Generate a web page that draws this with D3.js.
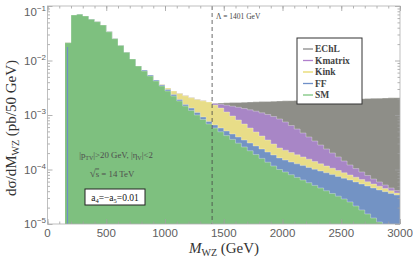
<!DOCTYPE html>
<html>
<head>
<meta charset="utf-8">
<script src="https://cdn.jsdelivr.net/npm/d3@7/dist/d3.min.js"></script>
<style>
  body { margin: 0; background: #fff; }
  svg { display: block; }
</style>
</head>
<body>
<svg id="chart" width="413" height="260"></svg>
<script>
// bins of 50 GeV, 150 -> 3000
var binEdges = d3.range(150, 3001, 50);
var ffStart = 170;
var lambdaMass = 1401;

var smVals = [0.0212, 0.0684, 0.0705, 0.0656, 0.0570, 0.0515, 0.0448, 0.0336, 0.0251, 0.0188,
  0.0141, 0.01066, 0.00792, 0.00641, 0.00520, 0.00421, 0.00341, 0.00276, 0.00223, 0.00181,
  0.00146, 0.00121, 0.00100, 8.27e-4, 6.84e-4, 5.77e-4, 4.92e-4, 4.19e-4, 3.57e-4, 3.04e-4,
  2.59e-4, 2.21e-4, 1.88e-4, 1.60e-4, 1.36e-4, 1.16e-4, 1.00e-4, 9.0e-5, 8.03e-5, 7.16e-5,
  6.42e-5, 5.73e-5, 5.11e-5, 4.58e-5, 4.07e-5, 3.63e-5, 3.24e-5, 2.88e-5, 2.54e-5, 2.14e-5,
  1.81e-5, 1.53e-5, 1.29e-5, 1.09e-5, 9.2e-6, 7.8e-6, 6.6e-6];

var ffVals = [0.0177, 0.0684, 0.0705, 0.0656, 0.0570, 0.0515, 0.0448, 0.0336, 0.0251, 0.0188,
  0.0141, 0.01066, 0.00792, 0.00668, 0.00542, 0.00439, 0.00356, 0.00294, 0.00238, 0.00193,
  0.00156, 0.00134, 0.00111, 9.2e-4, 7.6e-4, 6.56e-4, 5.77e-4, 5.08e-4, 4.48e-4, 3.94e-4,
  3.47e-4, 3.06e-4, 2.70e-4, 2.38e-4, 2.09e-4, 1.85e-4, 1.63e-4, 1.49e-4, 1.37e-4, 1.27e-4,
  1.18e-4, 1.09e-4, 1.01e-4, 9.38e-5, 8.7e-5, 8.06e-5, 7.47e-5, 6.92e-5, 6.42e-5, 5.90e-5,
  5.42e-5, 4.98e-5, 4.58e-5, 4.21e-5, 3.92e-5, 3.64e-5, 3.40e-5];

var kinkVals = [0.0212, 0.0684, 0.0705, 0.0656, 0.0570, 0.0515, 0.0448, 0.0336, 0.0251, 0.0188,
  0.0141, 0.01066, 0.00792, 0.00645, 0.00531, 0.00435, 0.00363, 0.00313, 0.00276, 0.00248,
  0.00225, 0.00207, 0.00193, 0.00182, 0.00173, 0.00153, 0.00134, 0.001135, 9.59e-4, 8.10e-4,
  6.84e-4, 5.77e-4, 4.88e-4, 4.12e-4, 3.48e-4, 2.94e-4, 2.48e-4, 2.26e-4, 2.05e-4, 1.86e-4,
  1.70e-4, 1.545e-4, 1.40e-4, 1.27e-4, 1.16e-4, 1.056e-4, 9.59e-5, 8.70e-5, 7.93e-5, 7.22e-5,
  6.55e-5, 5.95e-5, 5.42e-5, 4.94e-5, 4.48e-5, 4.07e-5, 3.71e-5];

var kmatrixVals = [0.0212, 0.0684, 0.0705, 0.0656, 0.0570, 0.0515, 0.0448, 0.0336, 0.0251, 0.0188,
  0.0141, 0.01066, 0.00792, 0.00645, 0.00531, 0.00435, 0.00363, 0.00313, 0.00276, 0.00248,
  0.00225, 0.00207, 0.00193, 0.00182, 0.00173, 1.626e-3, 1.572e-3, 1.513e-3, 1.451e-3, 1.385e-3,
  1.316e-3, 1.245e-3, 1.174e-3, 1.097e-3, 1.021e-3, 9.39e-4, 8.45e-4, 7.44e-4, 6.42e-4, 5.53e-4,
  4.67e-4, 3.95e-4, 3.33e-4, 2.81e-4, 2.38e-4, 2.01e-4, 1.70e-4, 1.43e-4, 1.21e-4, 1.04e-4,
  9.0e-5, 7.76e-5, 6.69e-5, 5.90e-5, 5.20e-5, 4.58e-5, 4.12e-5];

var echlVals = [0.0212, 0.0684, 0.0705, 0.0656, 0.0570, 0.0515, 0.0448, 0.0336, 0.0251, 0.0188,
  0.0141, 0.01066, 0.00792, 0.00645, 0.00531, 0.00435, 0.00363, 0.00313, 0.00276, 0.00248,
  0.00225, 0.00207, 0.00193, 0.00182, 0.00173, 1.646e-3, 1.660e-3, 1.674e-3, 1.688e-3, 1.702e-3,
  1.717e-3, 1.731e-3, 1.746e-3, 1.761e-3, 1.776e-3, 1.791e-3, 1.807e-3, 1.819e-3, 1.832e-3, 1.845e-3,
  1.858e-3, 1.871e-3, 1.884e-3, 1.897e-3, 1.910e-3, 1.924e-3, 1.937e-3, 1.951e-3, 1.964e-3, 1.978e-3,
  1.992e-3, 2.006e-3, 2.020e-3, 2.034e-3, 2.048e-3, 2.063e-3, 2.077e-3];

var seriesNames = ['EChL', 'Kmatrix', 'Kink', 'FF', 'SM'];
var seriesVals = [echlVals, kmatrixVals, kinkVals, ffVals, smVals];
var fillColors = ['#8e8e88', '#a886c6', '#e8dd88', '#7393c4', '#7ec07f'];
var lineColors = ['#8a8a8a', '#b07fcc', '#e6d86a', '#6f90c8', '#7cc47e'];

var xTicks = [0, 500, 1000, 1500, 2000, 2500, 3000];
var yTicks = [1e-5, 1e-4, 1e-3, 1e-2, 1e-1];

var x = d3.scaleLinear().domain([0, 3000]).range([47.5, 400]);
var y = d3.scaleLog().domain([1e-5, 1e-1]).range([224, 6]);

var svg = d3.select('#chart');

svg.append('clipPath').attr('id', 'clip')
  .append('rect').attr('x', x(0)).attr('y', y(1e-1))
  .attr('width', x(3000) - x(0)).attr('height', y(1e-5) - y(1e-1));

var plot = svg.append('g').attr('clip-path', 'url(#clip)');

function stepPoints(vals, first) {
  var pts = vals.map(function(v, i) { return [i == 0 && first != null ? first : binEdges[i], v]; });
  pts.push([binEdges[vals.length], vals[vals.length - 1]]);
  return pts;
}

var area = d3.area().curve(d3.curveStepAfter)
  .x(function(d) { return x(d[0]); })
  .y0(y(1e-5) + 5)
  .y1(function(d) { return y(d[1]); });
var line = d3.line().curve(d3.curveStepAfter)
  .x(function(d) { return x(d[0]); })
  .y(function(d) { return y(d[1]); });

seriesVals.forEach(function(vals, i) {
  var pts = stepPoints(vals, seriesNames[i] == 'FF' ? ffStart : null);
  plot.append('path').attr('d', area(pts)).attr('fill', fillColors[i]);
  plot.append('path').attr('d', line(pts)).attr('fill', 'none')
    .attr('stroke', '#fff').attr('stroke-opacity', 0.3).attr('stroke-width', 1);
});

// left edge of the FF histogram shows through
plot.append('line')
  .attr('x1', x(ffStart)).attr('x2', x(ffStart))
  .attr('y1', y(ffVals[0])).attr('y2', y(1e-5))
  .attr('stroke', '#6f8fc4').attr('stroke-width', 1.2);

// unitarity scale
svg.append('line')
  .attr('x1', x(lambdaMass)).attr('x2', x(lambdaMass))
  .attr('y1', y(1e-1)).attr('y2', y(1e-5))
  .attr('stroke', '#444').attr('stroke-width', 0.8).attr('stroke-dasharray', '4,3');
svg.append('text').attr('x', x(lambdaMass) + 4).attr('y', 19)
  .attr('font-family', 'Liberation Serif, serif').attr('font-size', 7.5).attr('fill', '#444')
  .text('\u039B = 1401 GeV');

// frame and ticks
var tickColor = '#a0a0a0';
var minorX = d3.range(0, 3001, 100);
var minorY = [];
[-5, -4, -3, -2].forEach(function(e) {
  for (var k = 2; k <= 9; k++) minorY.push(k * Math.pow(10, e));
});

function tickAxis(axis, g, size) {
  g.call(axis.tickSize(size).tickFormat(''));
  g.select('.domain').remove();
  g.selectAll('line').attr('stroke', tickColor).attr('stroke-width', 0.8);
}
var b = y(1e-5), t = y(1e-1), l = x(0), r = x(3000);
tickAxis(d3.axisBottom(x).tickValues(minorX), svg.append('g').attr('transform', 'translate(0,' + b + ')'), -2.5);
tickAxis(d3.axisBottom(x).tickValues(xTicks), svg.append('g').attr('transform', 'translate(0,' + b + ')'), -5);
tickAxis(d3.axisTop(x).tickValues(minorX), svg.append('g').attr('transform', 'translate(0,' + t + ')'), -2.5);
tickAxis(d3.axisTop(x).tickValues(xTicks), svg.append('g').attr('transform', 'translate(0,' + t + ')'), -5);
tickAxis(d3.axisLeft(y).tickValues(minorY), svg.append('g').attr('transform', 'translate(' + l + ',0)'), -2.5);
tickAxis(d3.axisLeft(y).tickValues(yTicks), svg.append('g').attr('transform', 'translate(' + l + ',0)'), -5);
tickAxis(d3.axisRight(y).tickValues(minorY), svg.append('g').attr('transform', 'translate(' + r + ',0)'), -2.5);
tickAxis(d3.axisRight(y).tickValues(yTicks), svg.append('g').attr('transform', 'translate(' + r + ',0)'), -5);

svg.append('rect').attr('x', l).attr('y', t).attr('width', r - l).attr('height', b - t)
  .attr('fill', 'none').attr('stroke', '#b0b0b0').attr('stroke-width', 0.8);

// tick labels
var labelFont = 'Liberation Sans, Arial, sans-serif';
svg.append('g').selectAll('text').data(xTicks).enter().append('text')
  .attr('x', function(d) { return x(d); }).attr('y', 237)
  .attr('text-anchor', 'middle').attr('font-family', labelFont).attr('font-size', 11.5)
  .attr('fill', '#606060').text(function(d) { return d; });

var yl = svg.append('g').selectAll('text').data(yTicks).enter().append('text')
  .attr('x', 46).attr('y', function(d) { return Math.max(y(d), 12) + 4; })
  .attr('text-anchor', 'end').attr('font-family', labelFont).attr('font-size', 11.5)
  .attr('fill', '#606060');
yl.append('tspan').text('10');
yl.append('tspan').attr('dy', -5).attr('font-size', 8)
  .text(function(d) { return '\u2212' + Math.round(-Math.log10(d)); });

// axis titles
var serif = 'Liberation Serif, Times New Roman, serif';
var xt = svg.append('text').attr('x', 224).attr('y', 253).attr('text-anchor', 'middle')
  .attr('font-family', serif).attr('font-size', 15).attr('fill', '#333');
xt.append('tspan').attr('font-style', 'italic').text('M');
xt.append('tspan').attr('font-size', 10).attr('dy', 3).text('WZ');
xt.append('tspan').attr('dy', -3).text(' (GeV)');

var ytl = svg.append('text').attr('transform', 'translate(16,128) rotate(-90)')
  .attr('text-anchor', 'middle').attr('font-family', serif).attr('font-size', 15).attr('fill', '#333');
ytl.append('tspan').text('d\u03C3/dM');
ytl.append('tspan').attr('font-size', 10).attr('dy', 3).text('WZ');
ytl.append('tspan').attr('dy', -3).text(' (pb/50 GeV)');

// legend
var lg = svg.append('g').attr('transform', 'translate(297,38)');
lg.append('rect').attr('width', 65).attr('height', 66).attr('fill', '#fff')
  .attr('stroke', '#333').attr('stroke-width', 1);
seriesNames.forEach(function(n, i) {
  var yy = 11 + i * 11.5;
  lg.append('line').attr('x1', 6).attr('x2', 16).attr('y1', yy).attr('y2', yy)
    .attr('stroke', lineColors[i]).attr('stroke-width', 1.3);
  lg.append('text').attr('x', 18).attr('y', yy + 3.2)
    .attr('font-family', serif).attr('font-weight', 'bold').attr('font-size', 9.5)
    .attr('fill', '#444').text(n);
});

// annotations
var ann = svg.append('g').attr('font-family', serif).attr('fill', '#4e4e4e');
var a1 = ann.append('text').attr('x', 116).attr('y', 158).attr('text-anchor', 'middle').attr('font-size', 8.8);
a1.append('tspan').text('|p');
a1.append('tspan').attr('font-size', 6).attr('dy', 1.8).text('TV');
a1.append('tspan').attr('dy', -1.8).text('|>20 GeV, |\u03B7');
a1.append('tspan').attr('font-size', 6).attr('dy', 1.8).text('V');
a1.append('tspan').attr('dy', -1.8).text('|<2');

var a2 = ann.append('text').attr('x', 112).attr('y', 176.5).attr('text-anchor', 'middle').attr('font-size', 8.8);
a2.append('tspan').attr('font-size', 11).text('\u221A');
a2.append('tspan').attr('text-decoration', 'overline').text('s');
a2.append('tspan').text(' = 14 TeV');

svg.append('rect').attr('x', 85).attr('y', 189).attr('width', 60).attr('height', 16)
  .attr('fill', '#fff').attr('stroke', '#222').attr('stroke-width', 1);
var a3 = svg.append('text').attr('x', 115).attr('y', 200.5).attr('text-anchor', 'middle')
  .attr('font-family', serif).attr('font-size', 9.5).attr('fill', '#111');
a3.append('tspan').text('a');
a3.append('tspan').attr('font-size', 6.5).attr('dy', 2).text('4');
a3.append('tspan').attr('dy', -2).text('=\u2212a');
a3.append('tspan').attr('font-size', 6.5).attr('dy', 2).text('5');
a3.append('tspan').attr('dy', -2).text('=0.01');
</script>
</body>
</html>
